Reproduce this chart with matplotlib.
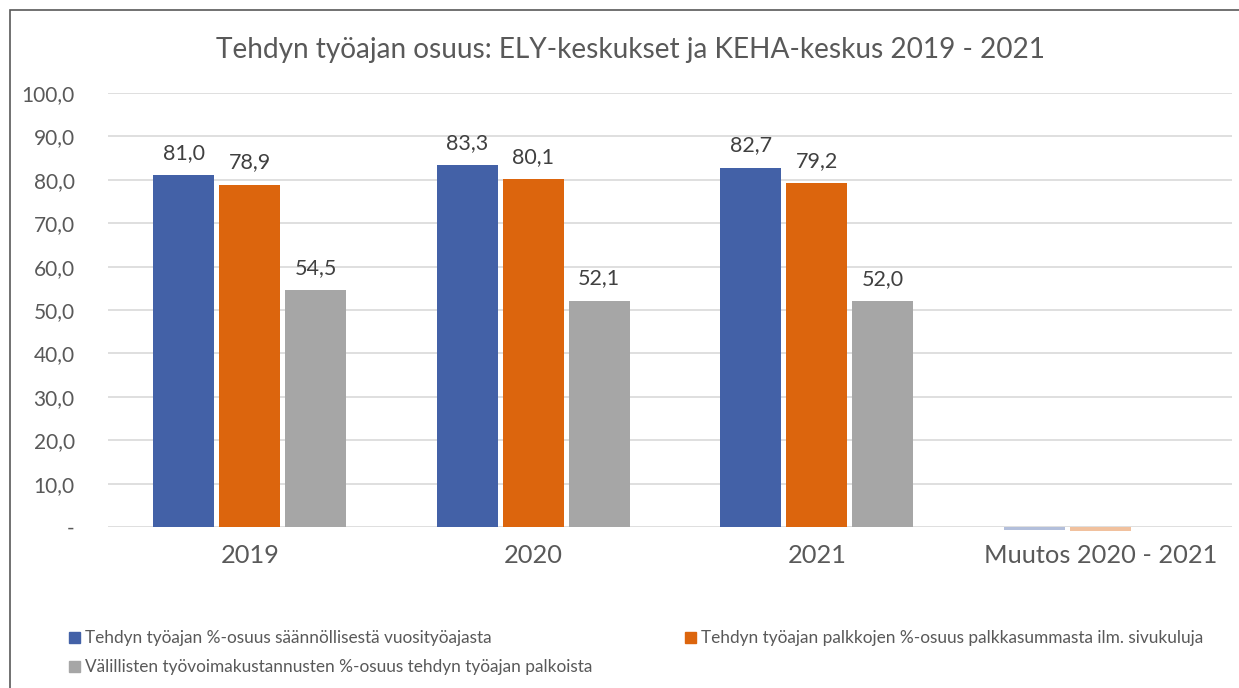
import numpy as np
import matplotlib.pyplot as plt
from matplotlib.patches import Rectangle, Patch

plt.rcParams['font.family'] = ['Lato', 'DejaVu Sans']

categories = ['2019', '2020', '2021', 'Muutos 2020 - 2021']
series_names = [
    'Tehdyn työajan %-osuus säännöllisestä vuosityöajasta',
    'Tehdyn työajan palkkojen %-osuus palkkasummasta ilm. sivukuluja',
    'Välillisten työvoimakustannusten %-osuus tehdyn työajan palkoista',
]
tyoaika = [81.0, 83.3, 82.7]
palkat = [78.9, 80.1, 79.2]
valilliset = [54.5, 52.1, 52.0]
muutos = [-0.6, -0.9, -0.1]
colors = ['#4361A7', '#DC650D', '#A6A6A6']

yticks = [0, 10, 20, 30, 40, 50, 60, 70, 80, 90, 100]
ytick_labels = ['-'] + ['%d,0' % v for v in yticks[1:]]

fig = plt.figure(figsize=(12.39, 6.88), dpi=100)
ax = fig.add_axes([108 / 1239, 1 - 527 / 688, 1124 / 1239, 434 / 688])

width = 0.215
step = 0.233
x = np.arange(3)
for i, vals in enumerate([tyoaika, palkat, valilliset]):
    bars = ax.bar(x + (i - 1) * step, vals, width, color=colors[i], zorder=3)
    for b, v in zip(bars, vals):
        ax.annotate(('%.1f' % v).replace('.', ','),
                    (b.get_x() + b.get_width() / 2, v),
                    xytext=(0, 9), textcoords='offset points',
                    ha='center', va='bottom', fontsize=15.5, color='#404040')
    ax.bar(3 + (i - 1) * step, muutos[i], width, color=colors[i], alpha=0.4,
           zorder=3, clip_on=False)

ax.set_xlim(-0.5, 3.465)
ax.set_ylim(0, 100)
ax.set_yticks(yticks)
ax.set_yticklabels(ytick_labels, fontsize=15, color='#595959')
ax.set_xticks(range(4))
ax.set_xticklabels(categories, fontsize=18.3, color='#595959')
ax.tick_params(axis='y', length=0, pad=24)
ax.tick_params(axis='x', length=0, pad=12)
ax.grid(axis='y', color='#D9D9D9', linewidth=1.2, zorder=0)
for s in ax.spines.values():
    s.set_visible(False)

fig.text(631 / 1239, 1 - 50 / 688,
         'Tehdyn työajan osuus: ELY-keskukset ja KEHA-keskus 2019 - 2021',
         ha='center', va='center', fontsize=20.2, color='#595959')

handles = [Patch(color=c) for c in colors]
order = [0, 2, 1]
fig.legend([handles[k] for k in order], [series_names[k] for k in order],
           ncol=2, loc='upper left', bbox_to_anchor=(54 / 1239, 1 - 615 / 688),
           frameon=False, fontsize=12.4, labelcolor='#595959',
           handlelength=0.6, handleheight=0.6, handletextpad=0.3,
           columnspacing=5.4, labelspacing=0.75)

fig.patches.append(Rectangle((10 / 1239, -0.01), 1.2, 1 - 10 / 688 + 0.01,
                             transform=fig.transFigure, fill=False,
                             edgecolor='#595959', linewidth=1.2))

fig.savefig('out.png', dpi=100)
